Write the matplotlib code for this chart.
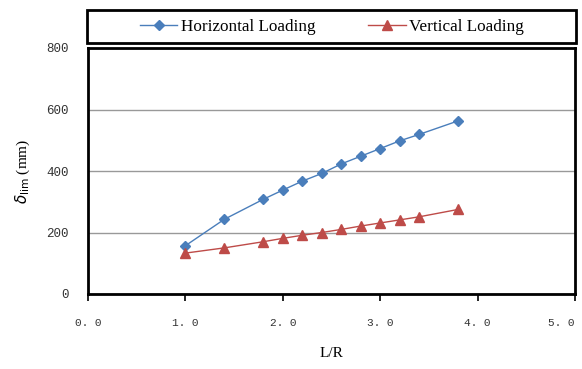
import numpy as np
import matplotlib.pyplot as plt
from matplotlib.patches import Rectangle

# data
lr = [1.0, 1.4, 1.8, 2.0, 2.2, 2.4, 2.6, 2.8, 3.0, 3.2, 3.4, 3.8]
horizontal = [157, 243, 308, 338, 367, 392, 423, 448, 473, 498, 519, 563]
vertical = [133, 150, 170, 181, 191, 200, 210, 221, 231, 241, 251, 275]

x_ticks = [0, 1, 2, 3, 4, 5]
y_ticks = [0, 200, 400, 600, 800]

fig = plt.figure(figsize=(5.82, 3.69), dpi=100)
ax = fig.add_axes([88 / 582, 75 / 369, 487 / 582, 246 / 369])

h, = ax.plot(lr, horizontal, color='#4a7ebb', marker='D', markersize=5.5,
             linewidth=1.0, label='Horizontal Loading')
v, = ax.plot(lr, vertical, color='#be4b48', marker='^', markersize=7,
             linewidth=1.0, label='Vertical Loading')

ax.set_xlim(0, 5)
ax.set_ylim(0, 800)
ax.set_xticks(x_ticks)
ax.set_yticks(y_ticks)
ax.set_xticklabels(['%d. 0' % t for t in x_ticks], family='Liberation Mono',
                   fontsize=8, color='#333333')
ax.set_yticklabels([str(t) for t in y_ticks], family='Liberation Mono',
                   fontsize=9, color='#333333')
ax.get_xticklabels()[-1].set_ha('right')  # keep "5. 0" inside the figure
ax.tick_params(axis='x', direction='out', length=5, width=1.2, pad=12)
ax.tick_params(axis='y', length=0, pad=14)
ax.grid(axis='y', color='#999999', linewidth=1.0)
for s in ax.spines.values():
    s.set_linewidth(2)

ax.set_xlabel('L/R', family='Liberation Serif', fontsize=11, labelpad=14)
ax.set_ylabel(r'$\delta_{\rm lim}$ (mm)', family='Liberation Serif',
              fontsize=11, labelpad=10)

# legend box sits above the plot area
fig.patches.append(Rectangle((87 / 582, 1 - 43 / 369), 489 / 582, 33 / 369,
                             transform=fig.transFigure, fill=False,
                             edgecolor='black', linewidth=2))
leg = fig.legend(handles=[h, v], loc='center', ncol=2,
                 bbox_to_anchor=(332 / 582, 1 - 27 / 369),
                 frameon=False,
                 prop={'family': 'Liberation Serif', 'size': 12.3},
                 handlelength=2.2, handletextpad=0.2, columnspacing=3.1)

fig.savefig('out.png', dpi=100)
